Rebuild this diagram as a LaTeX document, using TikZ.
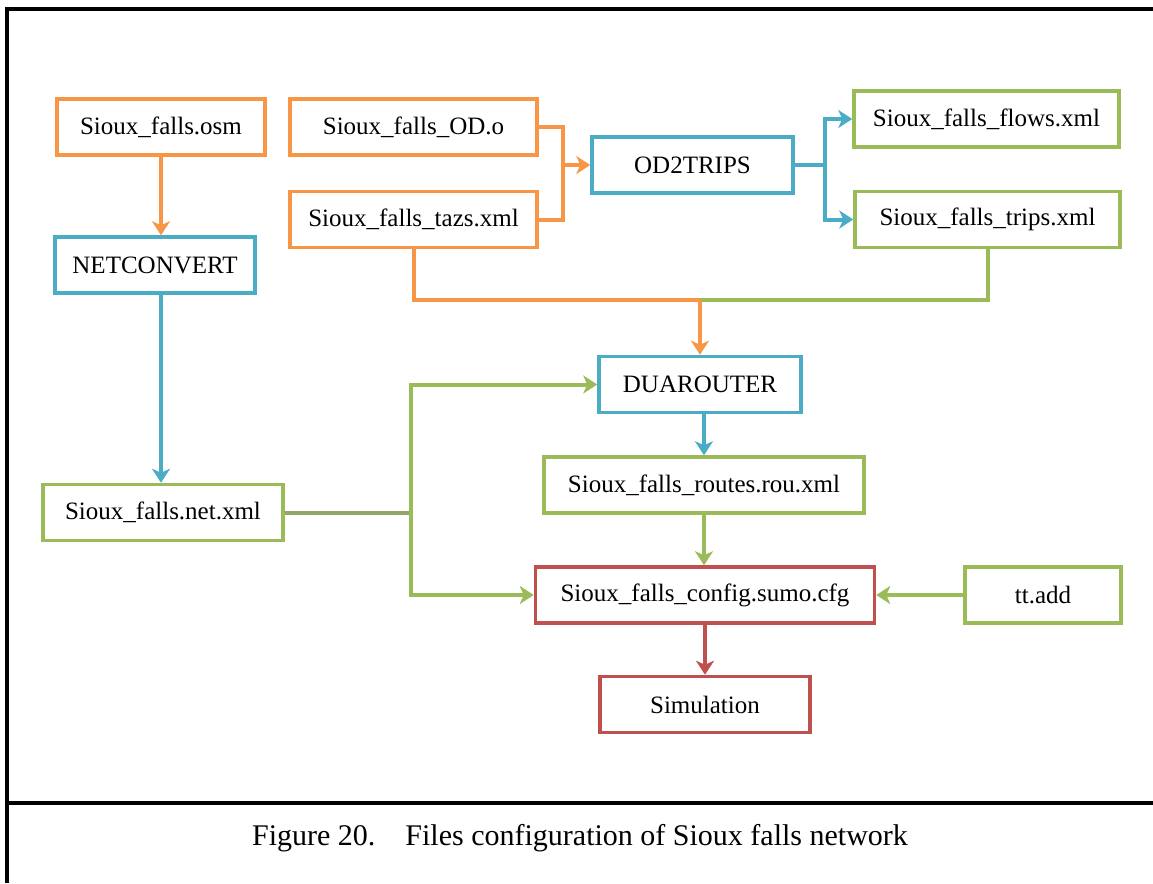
\documentclass[tikz,border=0pt]{standalone}
\usepackage{fontspec}
\setmainfont{Liberation Serif}
\usetikzlibrary{arrows.meta, positioning}

\definecolor{sfor}{HTML}{F79646}
\definecolor{sfbl}{HTML}{4BACC6}
\definecolor{sfgr}{HTML}{9BBB59}
\definecolor{sfrd}{HTML}{C0504D}

\begin{document}
\begin{tikzpicture}[x=1pt, y=-1pt,
      box/.style={draw, line width=3.5pt, fill=white, minimum height=56pt, inner sep=0pt, font=\fontsize{25}{30}\selectfont},
      ob/.style={box, draw=sfor},
      bb/.style={box, draw=sfbl},
      gb/.style={box, draw=sfgr},
      rb/.style={box, draw=sfrd},
      ln/.style={line width=4pt},
      ar/.style={ln, -{Stealth[length=14pt, width=18pt, inset=4pt]}},
    ]
      \useasboundingbox (0,0) rectangle (1153,883);
      % frame and caption
      \draw[line width=3.5pt] (7,883) -- (7,9) -- (1153,9);
      \draw[line width=3.5pt] (7,803) -- (1153,803);
      \node[font=\fontsize{30}{36}\selectfont] (cap) at (580,838) {Figure 20.\hspace{30pt}Files configuration of Sioux falls network};

      \node[ob, minimum width=208pt] (osm)  at (161,127)   {Sioux\_falls.osm};
      \node[bb, minimum width=200pt] (netc) at (155,265)   {NETCONVERT};
      \node[gb, minimum width=240pt] (netx) at (163,512.5) {Sioux\_falls.net.xml};
      \node[ob, minimum width=247pt] (odo)  at (413.5,127) {Sioux\_falls\_OD.o};
      \node[ob, minimum width=247pt] (tazs) at (413.5,219.5) {Sioux\_falls\_tazs.xml};
      \node[bb, minimum width=201pt] (od2)  at (692.5,165) {OD2TRIPS};
      \node[gb, minimum width=265pt] (flow) at (986.5,119) {Sioux\_falls\_flows.xml};
      \node[gb, minimum width=265pt] (trip) at (987.5,219.5) {Sioux\_falls\_trips.xml};
      \node[bb, minimum width=202pt] (duar) at (700,384.5) {DUAROUTER};
      \node[gb, minimum width=320pt] (rout) at (704,485)   {Sioux\_falls\_routes.rou.xml};
      \node[rb, minimum width=339pt] (cfg)  at (705,595)   {Sioux\_falls\_config.sumo.cfg};
      \node[gb, minimum width=156pt] (tta)  at (1043,595)  {tt.add};
      \node[rb, minimum width=210pt] (sim)  at (705,704.5) {Simulation};

      \coordinate[left=27pt of od2.west] (jod);
      \coordinate[right=30pt of od2.east] (jtr);
      \coordinate[above=55pt of duar.north] (jdu);
      \coordinate[right=126pt of netx.east] (jnet);

      \draw[ar, sfor] (osm.south) -- (osm.south |- netc.north);
      \draw[ar, sfbl] (osm.south |- netc.south) -- (osm.south |- netx.north);
      \draw[ln, sfor] (odo.east) -| (jod); \draw[ln, sfor] (tazs.east) -| (jod);
      \draw[ar, sfor] (jod) -- (od2.west);
      \draw[ln, sfbl] (od2.east) -- (jtr);
      \draw[ar, sfbl] (jtr) |- (flow.west); \draw[ar, sfbl] (jtr) |- (trip.west);
      \draw[ln, sfgr] (trip.south) |- (jdu);
      \draw[ln, sfor] (tazs.south) |- (jdu);
      \draw[ar, sfor] (jdu) -- (duar.north);
      \draw[ln, sfgr!65!gray] (netx.east) -- (jnet);
      \draw[ar, sfgr] (jnet) |- (duar.west); \draw[ar, sfgr] (jnet) |- (cfg.west);
      \draw[ar, sfbl] (duar.south -| rout.north) -- (rout.north);
      \draw[ar, sfgr] (rout.south) -- (rout.south |- cfg.north);
      \draw[ar, sfgr] (tta.west) -- (cfg.east);
      \draw[ar, sfrd] (cfg.south) -- (sim.north);
    \end{tikzpicture}
\end{document}
